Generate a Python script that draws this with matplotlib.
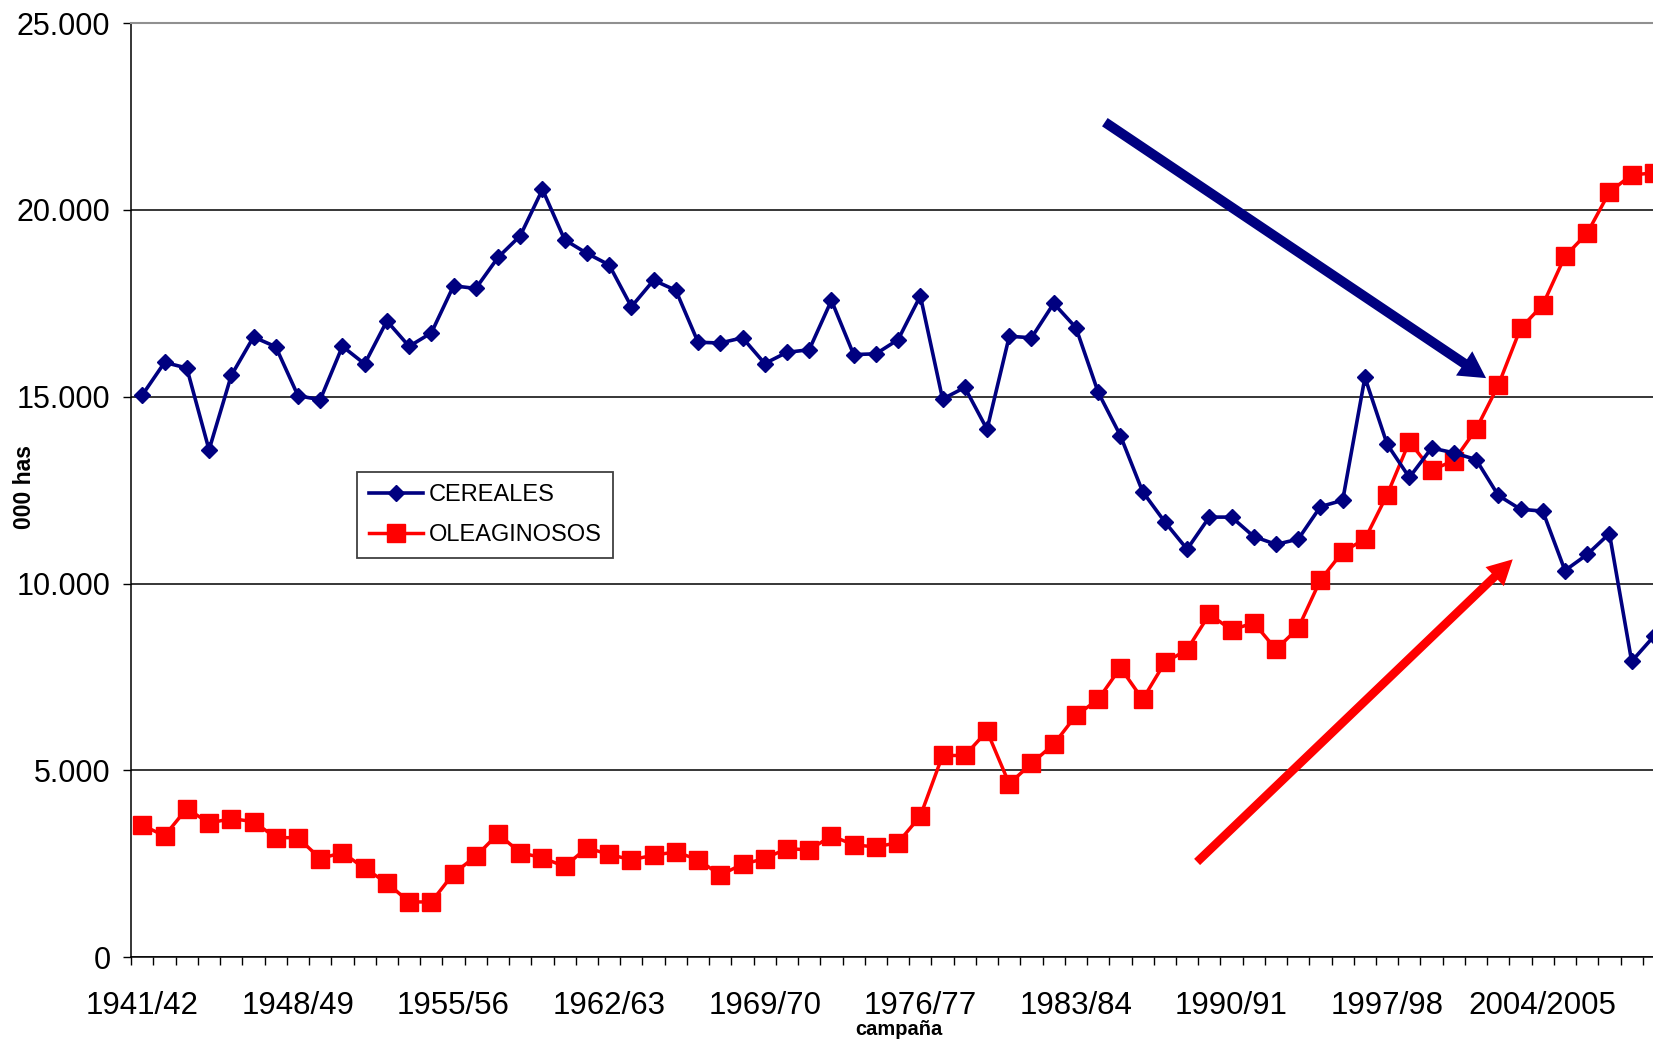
import numpy as np
import matplotlib.pyplot as plt
from matplotlib.patches import FancyArrowPatch

plt.rcParams['font.family'] = ['Liberation Sans', 'DejaVu Sans']

# superficie sembrada (000 has), campañas 1941/42 .. 2009/10
cereales = [15050, 15920, 15770, 13580, 15570, 16600, 16340, 15030, 14920, 16350,
            15880, 17030, 16350, 16710, 17970, 17900, 18730, 19310, 20550, 19200,
            18840, 18530, 17410, 18120, 17850, 16460, 16440, 16580, 15890, 16190,
            16260, 17580, 16130, 16150, 16530, 17700, 14940, 15250, 14130, 16620,
            16580, 17500, 16850, 15120, 13960, 12460, 11650, 10920, 11780, 11780,
            11260, 11050, 11190, 12060, 12230, 15520, 13730, 12840, 13630, 13500,
            13320, 12360, 11990, 11940, 10350, 10780, 11340, 7920, 8590]
oleaginosos = [3530, 3250, 3980, 3590, 3710, 3630, 3200, 3200, 2640, 2800,
               2380, 1990, 1480, 1480, 2240, 2700, 3300, 2800, 2660, 2430,
               2930, 2750, 2610, 2730, 2820, 2610, 2200, 2490, 2640, 2910,
               2870, 3250, 3010, 2950, 3070, 3780, 5400, 5400, 6050, 4640,
               5190, 5700, 6470, 6900, 7750, 6900, 7890, 8230, 9180, 8760,
               8950, 8240, 8810, 10100, 10850, 11190, 12380, 13800, 13040, 13290,
               14130, 15310, 16830, 17460, 18760, 19380, 20480, 20940, 20990]
tick_labels = ['1941/42', '1948/49', '1955/56', '1962/63', '1969/70',
               '1976/77', '1983/84', '1990/91', '1997/98', '2004/2005']
y_ticks = [0, 5000, 10000, 15000, 20000, 25000]
y_tick_labels = ['0', '5.000', '10.000', '15.000', '20.000', '25.000']

x = np.arange(len(cereales))

fig = plt.figure(figsize=(16.53, 10.39), dpi=100)
ax = fig.add_axes([0.0794, 0.0787, 0.9206, 0.899])

ax.plot(x, cereales, color='#000080', lw=2.6, marker='D', ms=8.3,
        label='CEREALES', zorder=4)
ax.plot(x, oleaginosos, color='#FF0000', lw=2.5, marker='s', ms=12.3,
        label='OLEAGINOSOS', zorder=3)

# flechas de tendencia
ax.add_patch(FancyArrowPatch((43.3, 22350), (60.45, 15500),
                             arrowstyle='simple,head_length=0.95,head_width=1.05,tail_width=0.36',
                             mutation_scale=20, color='#000080', lw=0,
                             shrinkA=0, shrinkB=0, zorder=5))
ax.add_patch(FancyArrowPatch((47.45, 2550), (61.65, 10650),
                             arrowstyle='simple,head_length=0.9,head_width=0.95,tail_width=0.31',
                             mutation_scale=20, color='#FF0000', lw=0,
                             shrinkA=0, shrinkB=0, zorder=5))

ax.set_yticks(y_ticks)
ax.set_yticklabels(y_tick_labels, fontsize=22)
ax.tick_params(axis='y', direction='out', length=6, width=1, pad=9)

major = x[::7][:len(tick_labels)]
ax.set_xticks(major)
ax.set_xticklabels(tick_labels, fontsize=22.5)
ax.set_xticks(np.arange(-0.5, len(x) + 0.5, 1), minor=True)
ax.tick_params(axis='x', which='major', length=0, pad=24)
ax.tick_params(axis='x', which='minor', direction='out', length=6, width=1)

# limits after the ticks, set_xticks would widen them
ax.set_xlim(-0.5, 67.96)
ax.set_ylim(0, 25000)

ax.yaxis.grid(True, color='black', lw=1.1)
ax.get_ygridlines()[-1].set_visible(False)
ax.set_axisbelow(True)

ax.spines['right'].set_visible(False)
ax.spines['top'].set_color('#909090')
ax.spines['top'].set_linewidth(1.5)
ax.spines['left'].set_linewidth(1.1)
ax.spines['bottom'].set_linewidth(1.1)

ax.text(-0.0704, 0.5035, '000 has', transform=ax.transAxes, rotation=90,
        fontsize=16.5, fontweight='bold', ha='center', va='center')
ax.text(0.5045, -0.0769, 'campaña', transform=ax.transAxes,
        fontsize=14.5, fontweight='bold', ha='center', va='center')

leg = ax.legend(loc='upper left', bbox_to_anchor=(0.1482, 0.519),
                borderaxespad=0, fontsize=17, handlelength=2.3,
                handletextpad=0.25, labelspacing=0.75, borderpad=0.5,
                fancybox=False, framealpha=1)
leg.get_frame().set_edgecolor('#404040')
leg.get_frame().set_linewidth(1.3)

fig.savefig('out.png', dpi=100)
